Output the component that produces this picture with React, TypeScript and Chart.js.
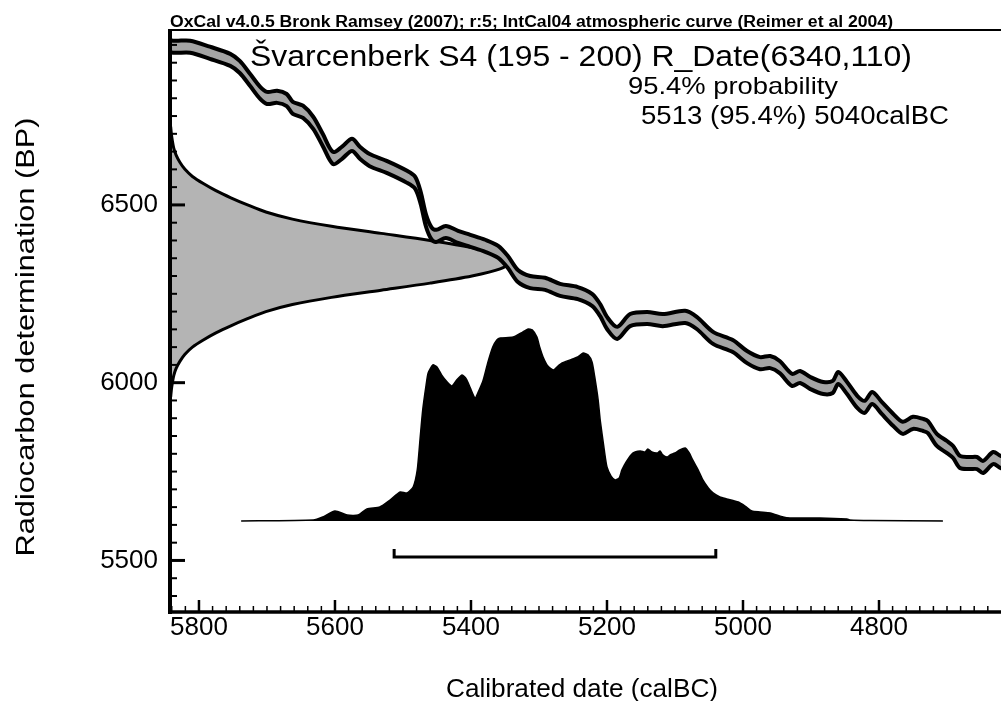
import React, { useEffect, useRef } from 'react';
import { Chart, registerables } from 'chart.js';

Chart.register(...registerables);

const FONT = '"Liberation Sans", Arial, Helvetica, sans-serif';

// ---- axes ----
const xTickValues = [5800, 5600, 5400, 5200, 5000, 4800];
const yTickValues = [5500, 6000, 6500];
const xMinorStep = 20;
const yMinorStep = 50;
const xMin = 4620.6;
const xMax = 5842.6;
const yMin = 5355;
const yMax = 6992;

// ---- IntCal04 calibration curve (centre line, BP) ----
const curveCalBC = [5850, 5838, 5813, 5784, 5754, 5740, 5725, 5710, 5700, 5685, 5671, 5662, 5647, 5632, 5618, 5603, 5590, 5575, 5563, 5549, 5524, 5494, 5482, 5474, 5466, 5458, 5451, 5437, 5419, 5401, 5379, 5360, 5346, 5331, 5313, 5291, 5269, 5243, 5222, 5210, 5200, 5185, 5166, 5141, 5118, 5085, 5068, 5044, 5015, 4994, 4975, 4960, 4946, 4928, 4916, 4901, 4882, 4868, 4860, 4847, 4832, 4821, 4810, 4796, 4779, 4765, 4750, 4735, 4728, 4715, 4700, 4691, 4681, 4666, 4656, 4647, 4632, 4621, 4610];
const curveBP = [6953, 6945, 6945, 6928, 6908, 6888, 6852, 6815, 6801, 6804, 6795, 6773, 6762, 6731, 6683, 6632, 6646, 6669, 6646, 6626, 6607, 6579, 6562, 6520, 6455, 6420, 6413, 6424, 6410, 6399, 6385, 6368, 6340, 6300, 6283, 6278, 6261, 6252, 6233, 6204, 6168, 6140, 6176, 6182, 6176, 6185, 6168, 6126, 6103, 6072, 6055, 6058, 6044, 6008, 6016, 5999, 5985, 5988, 6013, 5985, 5946, 5932, 5957, 5929, 5895, 5873, 5887, 5881, 5875, 5839, 5819, 5805, 5777, 5774, 5774, 5763, 5788, 5777, 5774];
const curveSigma = 17;

// ---- R_Date(6340,110): measurement distribution as drawn on the y axis ----
const dateBP = [5960, 5980, 6000, 6020, 6040, 6060, 6080, 6100, 6120, 6140, 6160, 6180, 6200, 6220, 6240, 6260, 6280, 6300, 6320, 6340, 6360, 6380, 6400, 6420, 6440, 6460, 6480, 6500, 6520, 6540, 6560, 6580, 6600, 6620, 6640, 6660, 6680, 6700, 6720];
const dateDensity = [0.002, 0.004, 0.007, 0.011, 0.018, 0.029, 0.044, 0.066, 0.098, 0.135, 0.179, 0.228, 0.282, 0.36, 0.475, 0.621, 0.765, 0.888, 0.971, 1.0, 0.971, 0.888, 0.765, 0.621, 0.475, 0.36, 0.282, 0.228, 0.179, 0.135, 0.098, 0.066, 0.044, 0.029, 0.018, 0.011, 0.007, 0.004, 0.002];

// ---- calibrated date probability ----
const calBC = [5738, 5632, 5618, 5600, 5582, 5566, 5553, 5534, 5519, 5504, 5494, 5485, 5479, 5475, 5471, 5466, 5463, 5456, 5450, 5443, 5435, 5428, 5421, 5413, 5407, 5401, 5394, 5388, 5382, 5375, 5368, 5362, 5357, 5338, 5324, 5316, 5310, 5303, 5299, 5294, 5287, 5279, 5272, 5266, 5254, 5243, 5235, 5228, 5222, 5218, 5213, 5210, 5204, 5200, 5194, 5188, 5182, 5178, 5172, 5162, 5151, 5144, 5140, 5134, 5126, 5122, 5118, 5112, 5107, 5100, 5093, 5085, 5079, 5074, 5066, 5059, 5051, 5044, 5034, 5024, 5007, 4997, 4987, 4975, 4960, 4941, 4931, 4887, 4847, 4843, 4813, 4706];
const calProb = [0, 0.005, 0.021, 0.052, 0.031, 0.031, 0.063, 0.073, 0.109, 0.151, 0.146, 0.177, 0.266, 0.422, 0.578, 0.708, 0.771, 0.813, 0.802, 0.76, 0.724, 0.703, 0.734, 0.76, 0.74, 0.693, 0.641, 0.682, 0.734, 0.828, 0.906, 0.943, 0.953, 0.958, 0.984, 1.0, 0.995, 0.958, 0.906, 0.854, 0.807, 0.786, 0.807, 0.823, 0.839, 0.854, 0.875, 0.865, 0.828, 0.75, 0.63, 0.526, 0.37, 0.281, 0.234, 0.214, 0.224, 0.266, 0.307, 0.354, 0.365, 0.359, 0.375, 0.359, 0.354, 0.365, 0.344, 0.333, 0.344, 0.354, 0.37, 0.38, 0.354, 0.318, 0.266, 0.214, 0.172, 0.146, 0.125, 0.115, 0.099, 0.078, 0.052, 0.047, 0.042, 0.021, 0.016, 0.016, 0.01, 0.005, 0.002, 0];

// 95.4% range
const rangeFrom = 5513;
const rangeTo = 5040;
const bracketLevel = -0.1875;
const bracketTick = -0.146;

// ---- texts ----
const headerText = 'OxCal v4.0.5 Bronk Ramsey (2007); r:5; IntCal04 atmospheric curve (Reimer et al 2004)';
const titleText = 'Švarcenberk S4 (195 - 200) R_Date(6340,110)';
const probText = '95.4% probability';
const rangeText = '5513 (95.4%) 5040calBC';
const xTitle = 'Calibrated date (calBC)';
const yTitle = 'Radiocarbon determination (BP)';

function fitText(ctx: CanvasRenderingContext2D, text: string, x: number, y: number, width: number, font: string, align: CanvasTextAlign = 'left', rotate = 0) {
  ctx.save();
  ctx.font = font;
  const w = ctx.measureText(text).width;
  const s = width / w;
  ctx.translate(x, y);
  if (rotate) ctx.rotate(rotate);
  ctx.scale(s, 1);
  ctx.textAlign = align;
  ctx.textBaseline = 'alphabetic';
  ctx.fillStyle = '#000';
  ctx.fillText(text, 0, 0);
  ctx.restore();
}

const framePlugin = {
  id: 'oxcalFrame',
  afterDraw(chart: any) {
    const ctx: CanvasRenderingContext2D = chart.ctx;
    const { left, right, top, bottom } = chart.chartArea;
    const xs = chart.scales.x;
    const ys = chart.scales.y;
    ctx.save();
    ctx.strokeStyle = '#000';
    ctx.lineCap = 'butt';
    // top line
    ctx.lineWidth = 2;
    ctx.beginPath();
    ctx.moveTo(left, top);
    ctx.lineTo(right, top);
    ctx.stroke();
    // left axis
    ctx.lineWidth = 4;
    ctx.beginPath();
    ctx.moveTo(left, top - 1);
    ctx.lineTo(left, bottom + 2);
    ctx.stroke();
    // bottom axis
    ctx.lineWidth = 3.5;
    ctx.beginPath();
    ctx.moveTo(left - 2, bottom);
    ctx.lineTo(right, bottom);
    ctx.stroke();
    // x ticks (inward)
    const xStart = Math.ceil(xMin / xMinorStep) * xMinorStep;
    for (let v = xStart; v <= xMax; v += xMinorStep) {
      const px = xs.getPixelForValue(v);
      if (px < left + 1 || px > right) continue;
      const major = xTickValues.includes(v);
      const len = major ? 12 : 6;
      ctx.lineWidth = major ? 2.5 : 1.5;
      ctx.beginPath();
      ctx.moveTo(px, bottom);
      ctx.lineTo(px, bottom - len);
      ctx.stroke();
    }
    // y ticks (inward)
    const yStart = Math.ceil(yMin / yMinorStep) * yMinorStep;
    for (let v = yStart; v <= yMax; v += yMinorStep) {
      const py = ys.getPixelForValue(v);
      if (py > bottom - 1 || py < top) continue;
      const major = yTickValues.includes(v);
      const len = major ? 15 : 7;
      ctx.lineWidth = major ? 3 : 2;
      ctx.beginPath();
      ctx.moveTo(left, py);
      ctx.lineTo(left + len, py);
      ctx.stroke();
    }
    ctx.restore();

    // texts
    fitText(ctx, headerText, 170, 27, 723, `bold 16px ${FONT}`);
    fitText(ctx, titleText, 250, 66, 662, `29px ${FONT}`);
    fitText(ctx, probText, 628, 94, 210, `24px ${FONT}`);
    fitText(ctx, rangeText, 641, 124, 308, `25px ${FONT}`);
    fitText(ctx, xTitle, 582, 697, 272, `26px ${FONT}`, 'center');
    fitText(ctx, yTitle, 34, 337, 439, `26px ${FONT}`, 'center', -Math.PI / 2);
  },
};

export default function App() {
  const canvasRef = useRef<HTMLCanvasElement | null>(null);

  useEffect(() => {
    document.body.style.margin = '0';
    document.body.style.background = '#fff';
    const canvas = canvasRef.current;
    if (!canvas) return;

    const upper = curveCalBC.map((x, i) => ({ x, y: curveBP[i] + curveSigma }));
    const lower = curveCalBC.map((x, i) => ({ x, y: curveBP[i] - curveSigma }));
    const gauss = dateBP.map((y, i) => ({ x: dateDensity[i], y }));
    const dist = calBC.map((x, i) => ({ x, y: calProb[i] }));
    const bracket = [
      { x: rangeFrom, y: bracketTick },
      { x: rangeFrom, y: bracketLevel },
      { x: rangeTo, y: bracketLevel },
      { x: rangeTo, y: bracketTick },
    ];

    const tickFont = { family: FONT, size: 26 };

    const chart = new Chart(canvas, {
      type: 'scatter',
      data: {
        datasets: [
          {
            label: 'curve lower',
            data: lower,
            showLine: true,
            pointRadius: 0,
            borderColor: '#000',
            borderWidth: 4,
            tension: 0.3,
            fill: false,
            xAxisID: 'x',
            yAxisID: 'y',
            borderJoinStyle: 'round',
          },
          {
            label: 'curve upper',
            data: upper,
            showLine: true,
            pointRadius: 0,
            borderColor: '#000',
            borderWidth: 4,
            tension: 0.3,
            backgroundColor: '#a4a4a4',
            fill: '-1',
            xAxisID: 'x',
            yAxisID: 'y',
            borderJoinStyle: 'round',
          },
          {
            label: '95.4% range',
            data: bracket,
            showLine: true,
            pointRadius: 0,
            borderColor: '#000',
            borderWidth: 3,
            fill: false,
            xAxisID: 'x',
            yAxisID: 'yp',
          },
          {
            label: 'calibrated',
            data: dist,
            showLine: true,
            pointRadius: 0,
            borderColor: '#000',
            borderWidth: 1.5,
            tension: 0.2,
            backgroundColor: '#000',
            fill: 'origin',
            xAxisID: 'x',
            yAxisID: 'yp',
          },
          {
            label: 'R_Date',
            data: gauss,
            indexAxis: 'y',
            showLine: true,
            pointRadius: 0,
            borderColor: '#000',
            borderWidth: 3,
            tension: 0.3,
            backgroundColor: '#b4b4b4',
            fill: 'origin',
            xAxisID: 'xg',
            yAxisID: 'y',
          },
        ] as any,
      },
      options: {
        responsive: false,
        animation: false,
        devicePixelRatio: 1,
        layout: { padding: { top: 30, left: 0, right: 0, bottom: 0 } },
        plugins: {
          legend: { display: false },
          tooltip: { enabled: false },
          title: { display: false },
        },
        scales: {
          x: {
            type: 'linear',
            position: 'bottom',
            reverse: true,
            min: xMin,
            max: xMax,
            grid: { display: false, drawTicks: false },
            border: { display: false },
            afterBuildTicks: (s: any) => {
              s.ticks = xTickValues.map((v) => ({ value: v }));
            },
            afterFit: (s: any) => {
              s.height = 89;
            },
            ticks: {
              font: tickFont,
              color: '#000',
              padding: 0,
              maxRotation: 0,
              autoSkip: false,
              callback: (v: any) => String(v),
            },
          },
          y: {
            type: 'linear',
            position: 'left',
            min: yMin,
            max: yMax,
            grid: { display: false, drawTicks: false },
            border: { display: false },
            afterBuildTicks: (s: any) => {
              s.ticks = yTickValues.map((v) => ({ value: v }));
            },
            afterFit: (s: any) => {
              s.width = 170;
            },
            ticks: {
              font: tickFont,
              color: '#000',
              padding: 12,
              autoSkip: false,
              callback: (v: any) => String(v),
            },
          },
          xg: {
            type: 'linear',
            axis: 'x',
            display: false,
            min: 0,
            max: 2.444,
          },
          yp: {
            type: 'linear',
            axis: 'y',
            display: false,
            min: -0.474,
            max: 2.557,
          },
        } as any,
      },
      plugins: [framePlugin],
    } as any);

    return () => {
      chart.destroy();
    };
  }, []);

  return (
    <div style={{ width: 1001, height: 701, background: '#fff' }}>
      <canvas ref={canvasRef} width={1001} height={701} style={{ display: 'block' }} />
    </div>
  );
}
